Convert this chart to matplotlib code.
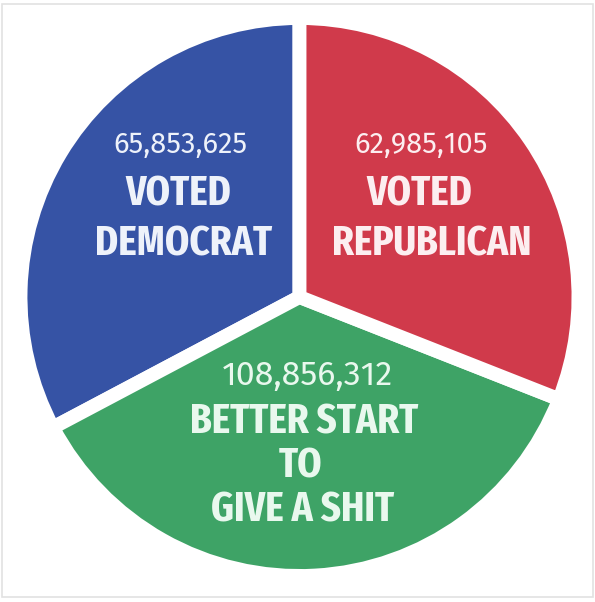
import matplotlib
matplotlib.use("Agg")
import matplotlib.pyplot as plt
from matplotlib import font_manager
from matplotlib.patches import Rectangle

# ---- data ----
categories = ["Voted Democrat", "Better start to give a shit", "Voted Republican"]
counts = ["65,853,625", "108,856,312", "62,985,105"]
label_lines = [["VOTED", "DEMOCRAT"], ["BETTER START", "TO", "GIVE A SHIT"], ["VOTED", "REPUBLICAN"]]
# slice sizes as drawn in the picture (degrees of arc)
slice_share = [117.9, 130.6, 111.5]
colors = ["#3653A5", "#3EA366", "#D03A4B"]
text_colors = ["#EEF2FA", "#E9F8EE", "#FCEEF0"]

W, H = 595, 602

installed = set(f.name for f in font_manager.fontManager.ttflist)


def pick(cands):
    for c in cands:
        if c in installed:
            return c
    return "DejaVu Sans"


bold_family = pick(["Fira Sans Extra Condensed", "Fira Sans Condensed", "Roboto Condensed",
                    "Asap Condensed", "Archivo Narrow", "PT Sans Narrow"])
bold_size = 30.5 if bold_family == "Fira Sans Extra Condensed" else 28
num_family = pick(["Fira Sans", "Lato", "Liberation Sans"])

fig = plt.figure(figsize=(W / 100, H / 100), dpi=100)
fig.patch.set_facecolor("white")
ax = fig.add_axes([0, 0, 1, 1])

cx, cy = 299.5, H - 297
ax.pie(slice_share, colors=colors, startangle=90, counterclock=True,
       center=(cx, cy), radius=279,
       wedgeprops=dict(edgecolor="white", linewidth=10))
ax.set_xlim(0, W)
ax.set_ylim(0, H)
ax.set_aspect("equal", adjustable="box")
ax.axis("off")

# text placement (pixel centers / baselines in image coords)
num_pos = [(180, 153), (307, 385), (421, 153)]
num_size = [21, 24.5, 21]
line_x = [[178, 184], [304, 301, 303], [419, 432]]
line_base = [[205, 255], [433, 477, 522], [205, 255]]

for i in range(3):
    x, yb = num_pos[i]
    ax.text(x, H - yb, counts[i], ha="center", va="baseline",
            fontsize=num_size[i], color=text_colors[i], family=num_family)
    for j, line in enumerate(label_lines[i]):
        ax.text(line_x[i][j], H - line_base[i][j], line, ha="center", va="baseline",
                fontsize=bold_size, fontweight="bold",
                color=text_colors[i], family=bold_family)

fig.patches.append(Rectangle((2 / W, 5 / H), 591 / W, 593 / H, transform=fig.transFigure,
                             fill=False, edgecolor="#E2E2E2", linewidth=1.2))

fig.savefig("out.png", dpi=100, facecolor="white")
